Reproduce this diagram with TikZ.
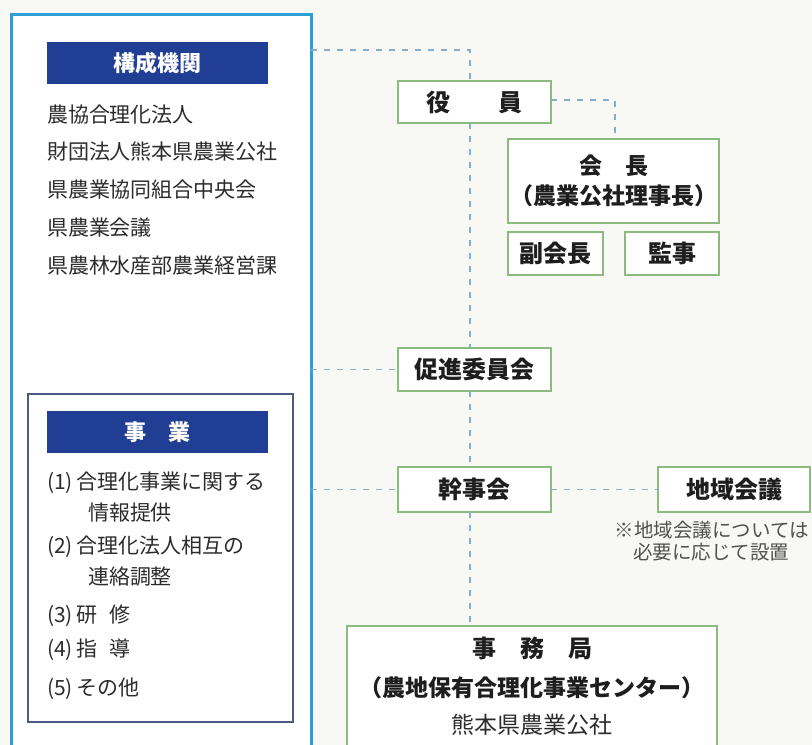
\documentclass[tikz,border=0pt]{standalone}
\usepackage{fontspec}
\newfontfamily\jp{Noto Sans CJK JP}
\definecolor{bgc}{HTML}{F8F9F5}
\definecolor{outerc}{HTML}{2E9FD5}
\definecolor{hdrc}{HTML}{1F3E94}
\definecolor{innerc}{HTML}{4A5A80}
\definecolor{greenc}{HTML}{8DBA7E}
\definecolor{dashc}{HTML}{86AECB}
\definecolor{txtc}{HTML}{1E1E1E}
\definecolor{itemc}{HTML}{2C2C2C}
\definecolor{notec}{HTML}{505050}
\begin{document}
\begin{tikzpicture}[x=1pt,y=-1pt,
  every node/.style={inner sep=0pt,outer sep=0pt},
  box/.style={draw=greenc,line width=1.3pt,fill=white,text=txtc,font=\jp\bfseries\fontsize{24}{28}\selectfont},
  conn/.style={draw=dashc,line width=1.3pt,dash pattern=on 6pt off 7pt},
  hdr/.style={fill=hdrc,text=white,font=\jp\bfseries\fontsize{22}{26}\selectfont},
  item/.style={anchor=west,text=itemc,font=\jp\fontsize{21}{24}\selectfont},
  note/.style={text=notec,font=\jp\fontsize{19.5}{22}\selectfont}]
\useasboundingbox (0,0) rectangle (812,745);
\clip (0,0) rectangle (812,745);
\fill[bgc] (0,0) rectangle (812,745);
% left frames
\node[draw=outerc,line width=3pt,fill=white,minimum width=300,minimum height=780] (outer) at (161,404) {};
\node[hdr,minimum width=221,minimum height=42] (h1) at (157.5,63) {構成機関};
\node[item] (m1) at (47,115) {農協合理化法人};
\node[item] (m2) at (47,152) {財団法人熊本県農業公社};
\node[item] (m3) at (47,190) {県農業協同組合中央会};
\node[item] (m4) at (47,228) {県農業会議};
\node[item] (m5) at (47,266) {県農林水産部農業経営課};
\node[draw=innerc,line width=1.6pt,minimum width=265,minimum height=328] (inner) at (160.5,558) {};
\node[hdr,minimum width=221,minimum height=42] (h2) at (157.5,432) {事　業};
\node[item] (j1) at (47,483) {(1)\,合理化事業に関する};
\node[item] (j1b) at (88,513) {情報提供};
\node[item] (j2) at (47,547) {(2)\,合理化法人相互の};
\node[item] (j2b) at (88,577) {連絡調整};
\node[item] (j3) at (47,616) {(3)\,研\hspace{0.6em}修};
\node[item] (j4) at (47,650) {(4)\,指\hspace{0.6em}導};
\node[item] (j5) at (47,689) {(5)\,その他};
% right boxes
\node[box,minimum width=153,minimum height=42] (yaku) at (474.5,102) {役　　員};
\node[box,minimum width=211,minimum height=84,align=center,font=\jp\bfseries\fontsize{23}{30}\selectfont] (kaicho) at (613.5,181) {会　長\\（農業公社理事長）};
\node[box,minimum width=95,minimum height=43] (fuku) at (555.5,253.5) {副会長};
\node[box,minimum width=94,minimum height=43] (kanji) at (672,253.5) {監事};
\node[box,minimum width=153,minimum height=43] (ppc) at (474.5,369.5) {促進委員会};
\node[box,minimum width=153,minimum height=45] (kjk) at (474.5,489.5) {幹事会};
\node[box,minimum width=152,minimum height=45] (chiiki) at (734,489.5) {地域会議};
\node[note] (n1) at (712,530) {※地域会議については};
\node[note] (n2) at (711,552) {必要に応じて設置};
\node[box,minimum width=370,minimum height=164] (jim) at (532,708) {};
\node[text=txtc,font=\jp\bfseries\fontsize{24}{28}\selectfont] (jim1) at (532,648) {事　務　局};
\node[text=txtc,font=\jp\bfseries\fontsize{23}{28}\selectfont] (jim2) at (532,688) {（農地保有合理化事業センター）};
\node[text=itemc,font=\jp\fontsize{23}{28}\selectfont] (jim3) at (532,725) {熊本県農業公社};
% connectors
\coordinate (trunk) at (470,50);
\coordinate (c2) at (615,100);
\draw[conn] (outer.east |- trunk) -- (trunk) -- (trunk |- yaku.north);
\draw[conn] (trunk |- yaku.south) -- (trunk |- ppc.north);
\draw[conn] (trunk |- ppc.south) -- (trunk |- kjk.north);
\draw[conn] (trunk |- kjk.south) -- (trunk |- jim.north);
\draw[conn] (yaku.east |- c2) -- (c2) -- (c2 |- kaicho.north);
\draw[conn] (outer.east |- ppc.west) -- (ppc.west);
\draw[conn] (outer.east |- kjk.west) -- (kjk.west);
\draw[conn] (kjk.east) -- (chiiki.west);
\end{tikzpicture}
\end{document}
